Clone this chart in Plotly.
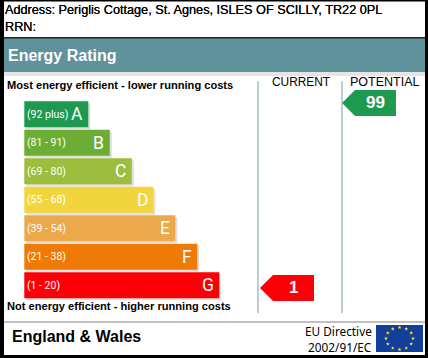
import math
import plotly.graph_objects as go

address = "Address: Periglis Cottage, St. Agnes, ISLES OF SCILLY, TR22 0PL"
rrn = "RRN:"
title = "Energy Rating"
top_note = "Most energy efficient - lower running costs"
bottom_note = "Not energy efficient - higher running costs"
column_names = ["CURRENT", "POTENTIAL"]
footer = "England & Wales"
directive = ["EU Directive", "2002/91/EC"]

letters = ["A", "B", "C", "D", "E", "F", "G"]
ranges = ["(92 plus)", "(81 - 91)", "(69 - 80)", "(55 - 68)", "(39 - 54)", "(21 - 38)", "(1 - 20)"]
bar_lengths = [64, 85.5, 107.5, 129, 151, 173, 195]
colors = ["#1d9a50", "#6cae35", "#9dbd3c", "#f2d53c", "#eca94b", "#f07a06", "#fb0007"]

current_value = 1
potential_value = 99
current_color = "#fb0007"
potential_color = "#1d9a50"

W, H = 428, 358
LEFT = 24.3
ROW0 = 114.2
PITCH = 28.5
rows = [ROW0 + i * PITCH for i in range(len(letters))]

fig = go.Figure()

# shadows then bars
fig.add_bar(orientation="h", y=[r + 2 for r in rows], x=bar_lengths, base=LEFT + 2, width=26,
            marker=dict(color="#dfdfdf", line_width=0), hoverinfo="skip")
fig.add_bar(orientation="h", y=rows, x=bar_lengths, base=LEFT, width=26,
            marker=dict(color=colors, line_width=0), hoverinfo="skip")

# rating arrows: (left tip, shoulder, right end, centre y, colour)
arrows = [(260, 273, 314, 288, current_color),
          (342, 355, 396, 103, potential_color)]
for tip, sh, end, y, col in arrows:
    fig.add_scatter(x=[tip, sh, end, end, sh, tip], y=[y, y - 13, y - 13, y + 13, y + 13, y],
                    mode="lines", fill="toself", fillcolor=col, line=dict(width=0), hoverinfo="skip")

# EU stars
sx = [399.5 + 13.5 * math.cos(math.radians(a * 30)) for a in range(12)]
sy = [338.5 + 11 * math.sin(math.radians(a * 30)) for a in range(12)]
fig.add_scatter(x=sx, y=sy, mode="markers", hoverinfo="skip",
                marker=dict(symbol="star", size=3, color="#f4e23a", line=dict(width=0)))

def rect(x0, y0, x1, y1, col):
    return dict(type="rect", x0=x0, y0=y0, x1=x1, y1=y1, fillcolor=col, line_width=0, layer="below")

shapes = [
    rect(4, 38, 425, 72, "#5f929b"),
    rect(4, 37, 425, 38.5, "#222222"),
    rect(4, 72, 425, 76, "#e4e4e4"),
    rect(4, 321, 425, 323, "#c0c0c0"),
    rect(257, 81, 259, 313, "#b9cdd3"),
    rect(341, 81, 343, 313, "#b9cdd3"),
    rect(376, 325, 423, 352, "#123f9a"),
    rect(0, 0, 4, H, "#000000"),
    rect(425, 0, W, H, "#000000"),
    rect(0, 0, W, 1.5, "#000000"),
    rect(0, 355, W, H, "#000000"),
]

def txt(x, y, s, size, color="#000000", bold=False, anchor="left", fam="Liberation Sans", shadow=None):
    font = dict(family=fam, size=size, color=color)
    if shadow:
        font["shadow"] = shadow
    return dict(x=x, y=y, text=f"<b>{s}</b>" if bold else s, showarrow=False, xanchor=anchor,
                yanchor="middle", xref="x", yref="y", borderpad=0, borderwidth=0, font=font)

thick = "0 0 0.6px #000000"
ann = [
    txt(5, 10, address, 12.7, shadow=thick),
    txt(5, 27, rrn, 12.7, shadow=thick),
    txt(8, 55, title, 16, "#ffffff", True),
    txt(7, 85, top_note, 11.1, bold=True),
    txt(7, 306, bottom_note, 11.1, bold=True),
    txt(300.5, 82, column_names[0], 11.9, anchor="center"),
    txt(385, 82, column_names[1], 12.5, anchor="center"),
    txt(12, 336, footer, 16, bold=True),
    txt(372, 331, directive[0], 11.8, anchor="right", fam="Noto Sans"),
    txt(372, 347, directive[1], 11.8, anchor="right", fam="Noto Sans"),
    txt(293, 287, str(current_value), 17, "#ffffff", True, "center"),
    txt(375.5, 102, str(potential_value), 17, "#ffffff", True, "center"),
]
for r, s, lt, off in zip(rows, ranges, letters, bar_lengths):
    ann.append(txt(26.5, r, s, 10.5, "#ffffff", False, fam="Roboto"))
    ann.append(txt(LEFT + off - 5.5, r, lt, 17.5, "#ffffff", False, "right", fam="Roboto"))

fig.update_layout(
    width=W, height=H, margin=dict(l=0, r=0, t=0, b=0, pad=0),
    paper_bgcolor="#ffffff", plot_bgcolor="#ffffff", showlegend=False, barmode="overlay",
    xaxis=dict(range=[0, W], visible=False, fixedrange=True),
    yaxis=dict(range=[H, 0], visible=False, fixedrange=True),
    shapes=shapes, annotations=ann,
)
fig.write_html("out.html", config={"displayModeBar": False},
               post_script="document.body.style.margin='0';document.documentElement.style.overflow='hidden';")
